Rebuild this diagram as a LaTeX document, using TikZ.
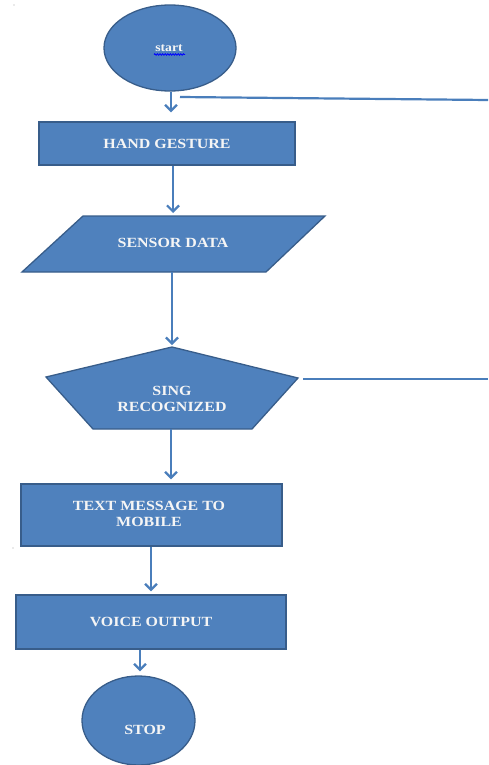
\documentclass[tikz,border=0pt]{standalone}
\usepackage{fontspec}
\usepackage{graphicx}
\setmainfont{Liberation Serif}
\usetikzlibrary{arrows.meta,shapes.geometric,decorations.pathmorphing}
\definecolor{fillb}{HTML}{4F81BD}
\definecolor{edgeb}{HTML}{385D8A}
\definecolor{arrb}{HTML}{4A7EBB}
\newcommand{\wtxt}[1]{\scalebox{1.14}[1]{#1}}
\begin{document}
\begin{tikzpicture}[x=1pt,y=-1pt,
  shapebox/.style={fill=fillb,draw=edgeb,line width=1.3pt},
  lbl/.style={text=white!96!black,font=\bfseries\fontsize{14}{16}\selectfont,align=center,inner sep=0pt},
  flow/.style={draw=arrb,line width=2.4pt,-{Straight Barb[length=6pt,width=12pt,line width=2.2pt]}},
  plainline/.style={draw=arrb,line width=2.2pt}]
\useasboundingbox (0,0) rectangle (488,765);

% start
\node[ellipse,shapebox,minimum width=132pt,minimum height=86pt,inner sep=0pt] (start) at (170,48) {};
\node[lbl,font=\bfseries\fontsize{12}{14}\selectfont] (starttxt) at (169,48) {\wtxt{start}};
\draw[blue,line width=0.8pt,decorate,decoration={snake,amplitude=0.8pt,segment length=2.6pt}] (154,54.5) -- (185,54.5);

% hand gesture
\node[shapebox,lbl,minimum width=256pt,minimum height=43pt] (hand) at (167,143.5) {\wtxt{HAND GESTURE}};

% sensor data
\draw[shapebox] (83,216) -- (325,216) -- (266,272) -- (22,272) -- cycle;
\node[lbl] (sensor) at (173,243) {\wtxt{SENSOR DATA}};
\coordinate (sensorN) at (173,216);
\coordinate (sensorS) at (172,272);

% sing recognized
\draw[shapebox] (172,347) -- (298,378) -- (252,429) -- (93,429) -- (46,377) -- cycle;
\node[lbl] (sign) at (172,399) {\wtxt{SING}\\\wtxt{RECOGNIZED}};
\coordinate (signN) at (172,347);
\coordinate (signS) at (171,429);
\coordinate (signR) at (303,379);
\coordinate (signEnd) at (488,379);

% text message
\node[shapebox,minimum width=261pt,minimum height=62pt,inner sep=0pt] (msg) at (151.5,515) {};
\node[lbl] (msgtxt) at (149,514) {\wtxt{TEXT MESSAGE TO}\\\wtxt{MOBILE}};

% voice output
\node[shapebox,lbl,minimum width=270pt,minimum height=54pt] (voice) at (151,622) {\wtxt{VOICE OUTPUT}};

% stop
\node[ellipse,shapebox,minimum width=113pt,minimum height=89pt,inner sep=0pt] (stop) at (138.5,720.5) {};
\node[lbl] (stoptxt) at (145,730) {\wtxt{STOP}};

% connectors
\coordinate (loopA) at (180,97);
\coordinate (loopB) at (488,100);
\draw[plainline] (loopA) -- (loopB);
\draw[flow,shorten >=9pt] (start.south -| 171,0) -- (hand.north -| 171,0);
\draw[flow,shorten >=3pt] (hand.south -| sensorN) -- (sensorN);
\draw[flow,shorten >=2pt] (sensorS) -- (signN);
\draw[plainline] (signR) -- (signEnd);
\draw[flow,shorten >=4pt] (signS) -- (msg.north -| signS);
\draw[flow,shorten >=3pt] (msg.south -| 151,0) -- (voice.north -| 151,0);
\draw[flow,shorten >=4pt] (voice.south -| 140,0) -- (stop.north -| 140,0);

% stray dots
\fill[gray!70] (14,5) circle (0.7pt);
\fill[gray!70] (13,548) circle (0.7pt);
\end{tikzpicture}
\end{document}
